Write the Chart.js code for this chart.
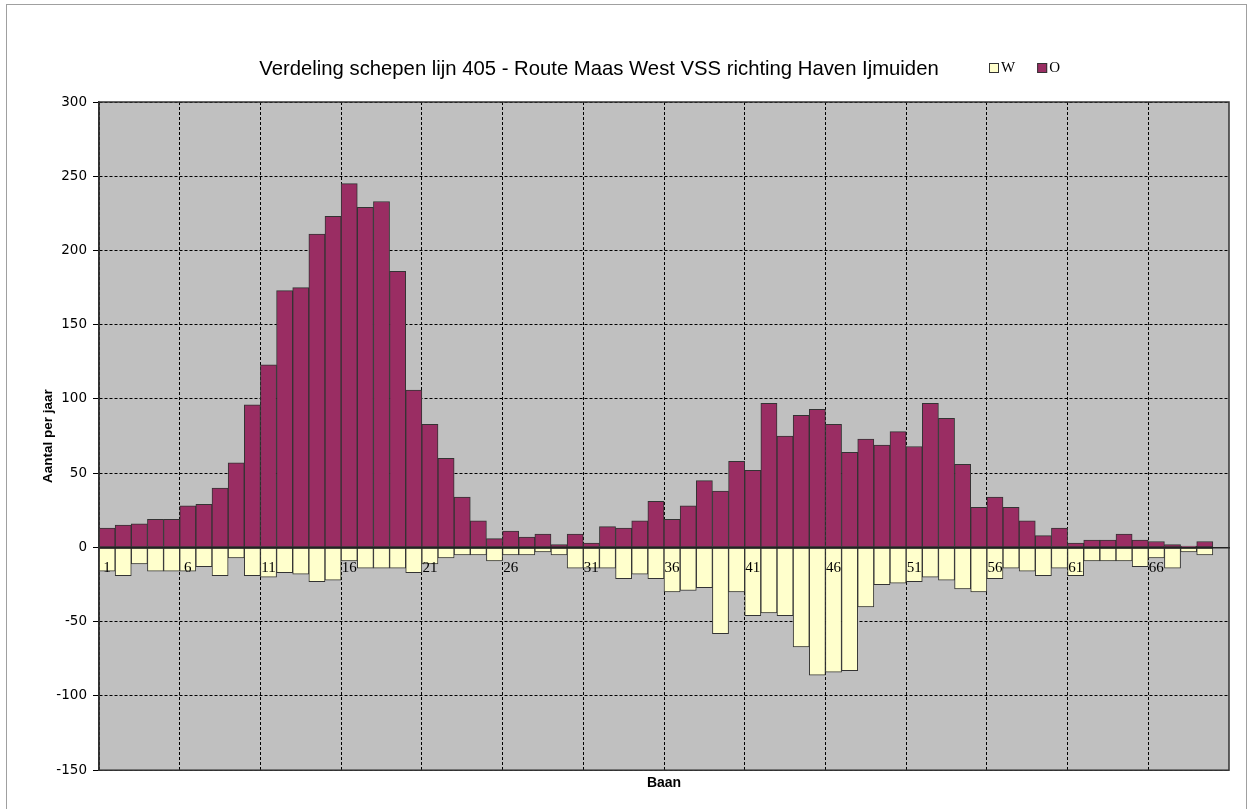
<!DOCTYPE html>
<html>
<head>
<meta charset="utf-8">
<script src="https://cdn.jsdelivr.net/npm/chart.js@4.4.0/dist/chart.umd.min.js"></script>
<style>
  body { margin: 0; background: #fff; }
  canvas { display: block; }
</style>
</head>
<body>
<canvas id="baanChart" width="1247" height="809"></canvas>
<script>
const chartTitle = 'Verdeling schepen lijn 405 - Route Maas West VSS richting Haven Ijmuiden';

const banen = [
  1, 2, 3, 4, 5, 6, 7, 8, 9, 10, 11, 12, 13, 14, 15, 16, 17, 18, 19, 20,
  21, 22, 23, 24, 25, 26, 27, 28, 29, 30, 31, 32, 33, 34, 35, 36, 37, 38, 39, 40,
  41, 42, 43, 44, 45, 46, 47, 48, 49, 50, 51, 52, 53, 54, 55, 56, 57, 58, 59, 60,
  61, 62, 63, 64, 65, 66, 67, 68, 69, 70
];

// W: westgaand (negatief getekend)
const westValues = [
  -16, -19, -11, -16, -16, -16, -13, -19, -7, -19,
  -20, -17, -18, -23, -22, -9, -14, -14, -14, -17,
  -11, -7, -5, -5, -9, -5, -5, -3, -5, -14,
  -14, -14, -21, -18, -21, -30, -29, -27, -58, -30,
  -46, -44, -46, -67, -86, -84, -83, -40, -25, -24,
  -23, -20, -22, -28, -30, -21, -14, -16, -19, -14,
  -19, -9, -9, -9, -13, -7, -14, -3, -5, null
];

// O: oostgaand
const oostValues = [
  13, 15, 16, 19, 19, 28, 29, 40, 57, 96,
  123, 173, 175, 211, 223, 245, 229, 233, 186, 106,
  83, 60, 34, 18, 6, 11, 7, 9, 2, 9,
  3, 14, 13, 18, 31, 19, 28, 45, 38, 58,
  52, 97, 75, 89, 93, 83, 64, 73, 69, 78,
  68, 97, 87, 56, 27, 34, 27, 18, 8, 13,
  3, 5, 5, 9, 5, 4, 2, 1, 4, null
];

const yMin = -150;
const yMax = 300;
const yStep = 50;

// achtergrond, kader, titel en legenda op een regel
const frameAndHeader = {
  id: 'frameAndHeader',
  beforeDraw(chart) {
    const { ctx, chartArea: a } = chart;
    ctx.save();
    ctx.fillStyle = '#fff';
    ctx.fillRect(0, 0, chart.width, chart.height);
    ctx.strokeStyle = '#a0a0a0';
    ctx.lineWidth = 1;
    ctx.strokeRect(6.5, 4.5, chart.width - 7, chart.height + 10);
    ctx.fillStyle = '#c0c0c0';
    ctx.fillRect(a.left, a.top, a.right - a.left, a.bottom - a.top);
    ctx.restore();
  },
  afterDraw(chart) {
    const { ctx, chartArea: a } = chart;
    ctx.save();
    ctx.strokeStyle = '#333';
    ctx.lineWidth = 1.5;
    ctx.strokeRect(a.left, a.top, a.right - a.left, a.bottom - a.top);

    ctx.fillStyle = '#000';
    ctx.font = '20.3px "Liberation Sans", Arial, sans-serif';
    ctx.textAlign = 'center';
    ctx.textBaseline = 'middle';
    ctx.fillText(chartTitle, 599, 69);

    ctx.font = '15px "Liberation Serif", serif';
    ctx.textAlign = 'left';
    let x = 989;
    chart.data.datasets.forEach(ds => {
      ctx.fillStyle = ds.backgroundColor;
      ctx.fillRect(x, 63, 10, 10);
      ctx.strokeStyle = '#333';
      ctx.lineWidth = 1;
      ctx.strokeRect(x + 0.5, 63.5, 9, 9);
      ctx.fillStyle = '#000';
      ctx.fillText(ds.label, x + 12, 68);
      x += 12 + ctx.measureText(ds.label).width + 22;
    });
    ctx.restore();
  }
};

new Chart(document.getElementById('baanChart'), {
  type: 'bar',
  data: {
    labels: banen,
    datasets: [
      {
        label: 'W',
        data: westValues,
        backgroundColor: '#ffffcc',
        borderColor: '#333',
        borderWidth: 1,
        borderSkipped: false,
        categoryPercentage: 1,
        barPercentage: 1
      },
      {
        label: 'O',
        data: oostValues,
        backgroundColor: '#9a2d63',
        borderColor: '#333',
        borderWidth: 1,
        borderSkipped: false,
        categoryPercentage: 1,
        barPercentage: 1
      }
    ]
  },
  options: {
    responsive: false,
    animation: false,
    layout: { padding: { top: 102, left: 10, right: 18, bottom: 11 } },
    plugins: {
      legend: { display: false },
      title: { display: false },
      tooltip: { enabled: false }
    },
    scales: {
      x: {
        stacked: true,
        position: { y: 0 },
        offset: true,
        grid: {
          offset: true,
          drawTicks: false,
          lineWidth: 1,
          color: c => (c.index % 5 === 0 ? '#000' : 'rgba(0,0,0,0)')
        },
        border: { display: true, color: '#222', width: 1.5, dash: [3, 2], z: 1 },
        ticks: {
          z: 1,
          autoSkip: false,
          maxRotation: 0,
          padding: 12,
          color: '#000',
          font: { family: '"Liberation Serif", serif', size: 15 },
          callback: (v, i) => (i % 5 === 0 ? banen[i] : '')
        }
      },
      xb: {
        type: 'category',
        position: 'bottom',
        grid: { display: false, drawTicks: false },
        border: { display: false },
        ticks: { display: false },
        title: {
          display: true,
          text: 'Baan',
          color: '#000',
          font: { family: '"Liberation Sans", Arial, sans-serif', size: 14, weight: 'bold' },
          padding: { top: 5, bottom: 6 }
        }
      },
      y: {
        stacked: true,
        min: yMin,
        max: yMax,
        afterFit: s => { s.width = 89; },
        grid: { color: '#000', lineWidth: 1, tickLength: 6 },
        border: { display: true, color: '#333', width: 1.5, dash: [3, 2] },
        ticks: {
          stepSize: yStep,
          padding: 6,
          color: '#000',
          font: { family: '"DejaVu Sans", sans-serif', size: 13.5 }
        },
        title: {
          display: true,
          text: 'Aantal per jaar',
          color: '#000',
          font: { family: '"Liberation Sans", Arial, sans-serif', size: 13.5, weight: 'bold' },
          padding: { top: 30, bottom: 0 }
        }
      }
    }
  },
  plugins: [frameAndHeader]
});
</script>
</body>
</html>
